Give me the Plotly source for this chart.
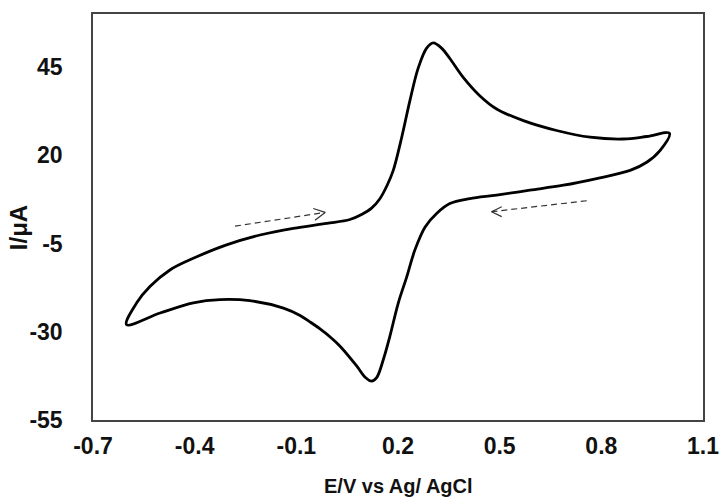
import plotly.graph_objects as go

# Cyclic voltammogram: potential (V vs Ag/AgCl) and current (µA)
potential = [-0.601, -0.571, -0.532, -0.473, -0.404, -0.306, -0.207, -0.109, -0.010, 0.058,
             0.094, 0.122, 0.146, 0.168, 0.186, 0.211, 0.235, 0.260, 0.285, 0.304, 0.330, 0.353,
             0.393, 0.442, 0.491, 0.570, 0.668, 0.767, 0.865, 0.934, 1.001,
             0.973, 0.934, 0.885, 0.786, 0.688, 0.589, 0.491, 0.412, 0.353, 0.314,
             0.280, 0.250, 0.226, 0.201, 0.176, 0.157, 0.137, 0.122, 0.103, 0.078,
             0.029, 0.005, -0.030, -0.060, -0.089, -0.138, -0.237, -0.325, -0.404, -0.502, -0.601]
current = [-28.0, -21.8, -17.2, -12.5, -9.2, -5.4, -2.6, -0.7, 0.7, 1.8,
           3.3, 5.0, 7.6, 11.5, 15.7, 25.1, 35.4, 44.8, 50.4, 51.8, 50.2, 47.4,
           42.0, 36.8, 33.1, 29.8, 27.0, 25.1, 24.6, 25.3, 26.2,
           21.3, 18.0, 15.7, 13.4, 11.5, 10.1, 8.7, 7.7, 6.3, 3.5,
           -0.3, -6.8, -14.4, -21.8, -31.3, -37.8, -43.0, -44.0, -42.9, -39.7,
           -34.1, -31.9, -29.2, -27.2, -25.4, -23.3, -21.2, -20.9, -21.8, -24.7, -28.0]

# Scan-direction arrows (shaft tail -> tip, plus two head barbs)
fwd_arrow_x = [-0.281, -0.015]
fwd_arrow_y = [-0.1, 3.8]
fwd_head_x = [-0.050, -0.015, -0.045]
fwd_head_y = [4.9, 3.8, 1.6]
rev_arrow_x = [0.757, 0.476]
rev_arrow_y = [7.1, 4.0]
rev_head_x = [0.506, 0.476, 0.506]
rev_head_y = [5.4, 4.0, 2.6]

x_ticks = [-0.7, -0.4, -0.1, 0.2, 0.5, 0.8, 1.1]
x_labels = ["-0.7", "-0.4", "-0.1", "0.2", "0.5", "0.8", "1.1"]
y_ticks = [-55, -30, -5, 20, 45]
y_labels = ["-55", "-30", "-5", "20", "45"]
x_title = "E/V vs Ag/ AgCl"
y_title = "I/μA"

fig = go.Figure()
fig.add_trace(go.Scatter(x=potential, y=current, mode="lines",
                         line=dict(color="black", width=2.8, shape="spline", smoothing=1.0),
                         showlegend=False, hoverinfo="skip"))
for xs, ys, dash in [(fwd_arrow_x, fwd_arrow_y, "6px,4px"), (rev_arrow_x, rev_arrow_y, "6px,4px"),
                     (fwd_head_x, fwd_head_y, "solid"), (rev_head_x, rev_head_y, "solid")]:
    fig.add_trace(go.Scatter(x=xs, y=ys, mode="lines",
                             line=dict(color="#333333", width=1.2, dash=dash),
                             showlegend=False, hoverinfo="skip"))

fam = "Liberation Sans, Arial, sans-serif"
tick_font = dict(family=fam, size=23, color="#111111", weight="bold")
xtitle_font = dict(family=fam, size=20, color="#111111", weight="bold")
ytitle_font = dict(family=fam, size=24, color="#111111", weight="bold")

fig.update_layout(
    width=724, height=499,
    margin=dict(l=93, r=21, t=14, b=79),
    paper_bgcolor="white", plot_bgcolor="white",
    font=tick_font,
    xaxis=dict(range=[-0.7, 1.1], tickvals=x_ticks, ticktext=x_labels,
               showgrid=False, zeroline=False, showline=True, linecolor="#444444", linewidth=1.5,
               mirror=True, ticks="", ticklabelstandoff=5, tickfont=tick_font, automargin=False),
    yaxis=dict(range=[-55, 60], tickvals=y_ticks, ticktext=y_labels,
               showgrid=False, zeroline=False, showline=True, linecolor="#444444", linewidth=1.5,
               mirror=True, ticks="", ticklabelstandoff=24, tickfont=tick_font, automargin=False),
    annotations=[
        dict(text=x_title, xref="paper", yref="paper", x=0.5, y=-0.162,
             xanchor="center", yanchor="middle", showarrow=False, font=xtitle_font),
        dict(text=y_title, xref="paper", yref="paper", x=-0.121, y=0.473, textangle=-90,
             xanchor="center", yanchor="middle", showarrow=False, font=ytitle_font),
    ],
)

fig.write_html("out.html")
